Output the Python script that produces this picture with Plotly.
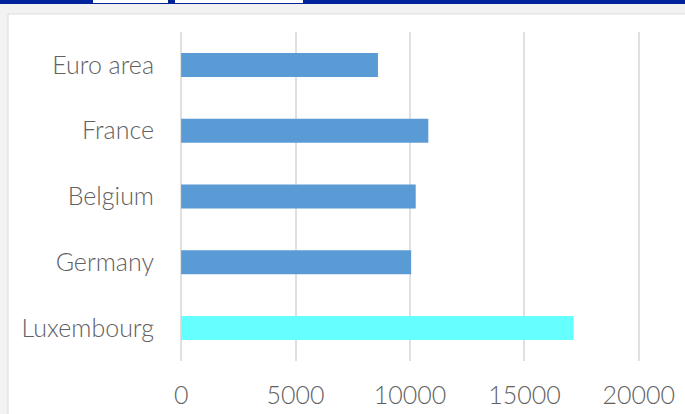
import plotly.graph_objects as go

countries = ["Euro area", "France", "Belgium", "Germany", "Luxembourg"]
values = [8600, 10800, 10250, 10050, 17150]
colors = ["#5B9BD5", "#5B9BD5", "#5B9BD5", "#5B9BD5", "#66FFFF"]
x_ticks = [0, 5000, 10000, 15000, 20000]

W, H = 685, 414
L, R, T, B = 180, 45, 32, 53
pw, ph = W - L - R, H - T - B

def px_x(p):
    return (p - L) / pw

def px_y(p):
    return 1 - (p - T) / ph

fig = go.Figure(go.Bar(
    y=countries, x=values, orientation="h",
    marker=dict(color=colors, line=dict(width=0)),
))

shapes = [
    dict(type="rect", xref="paper", yref="paper", layer="below",
         x0=px_x(8), x1=px_x(700), y0=px_y(430), y1=px_y(14),
         fillcolor="white", line=dict(color="#DCDCDC", width=1)),
    dict(type="rect", xref="paper", yref="paper", layer="above",
         x0=px_x(0), x1=px_x(685), y0=px_y(4), y1=px_y(0),
         fillcolor="#00239C", line=dict(width=0)),
    dict(type="rect", xref="paper", yref="paper", layer="above",
         x0=px_x(93), x1=px_x(168), y0=px_y(3), y1=px_y(0),
         fillcolor="white", line=dict(width=0)),
    dict(type="rect", xref="paper", yref="paper", layer="above",
         x0=px_x(175), x1=px_x(303), y0=px_y(3), y1=px_y(0),
         fillcolor="white", line=dict(width=0)),
]

tfont = dict(family="Lato", size=25, color="#616161", weight=300)

fig.update_layout(
    width=W, height=H,
    margin=dict(l=L, r=R, t=T, b=B, pad=0, autoexpand=False),
    paper_bgcolor="#F2F2F2",
    plot_bgcolor="rgba(0,0,0,0)",
    bargap=0.635,
    showlegend=False,
    shapes=shapes,
    font=tfont,
)
fig.update_xaxes(
    range=[-50, 20050], tickvals=x_ticks, ticktext=[str(v) for v in x_ticks],
    showgrid=True, gridcolor="#E0E0E0", gridwidth=1.5, zeroline=False,
    showline=False, ticks="", ticklabelstandoff=17, automargin=False,
    tickfont=tfont,
)
fig.update_yaxes(
    categoryorder="array", categoryarray=countries[::-1],
    showgrid=False, zeroline=False, showline=False, ticks="",
    ticklabelstandoff=25, automargin=False,
    tickfont=tfont,
)

fig.write_html("out.html")
